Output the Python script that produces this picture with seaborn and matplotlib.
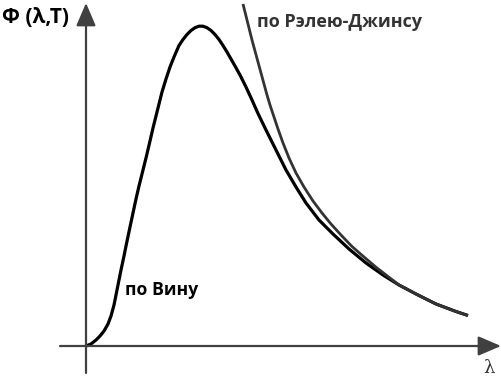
import matplotlib
matplotlib.use("Agg")
import matplotlib.pyplot as plt
import seaborn as sns
import pandas as pd

sns.set_theme(style="white")
plt.rcParams['font.family'] = ['Open Sans', 'DejaVu Sans']

# Planck-like curve (black) (arbitrary units)
planck_x = [0, 5, 10, 14, 18, 22, 25, 28, 30, 33, 35, 38, 40, 44, 47, 50, 53, 57, 60, 64,
            67, 70, 73, 76, 80, 84, 88, 93, 97, 101, 105, 109, 113, 117, 121, 125, 129,
            133, 137, 141, 145, 149, 154, 160, 166, 172, 180, 190, 200, 210, 220, 233,
            247, 263, 280, 297, 313, 330, 350, 370, 382]
planck_y = [0, 2, 6, 10, 15, 22, 30, 41, 51, 66, 76, 90, 100, 119, 133, 147, 160, 176, 188,
            205, 218, 230, 242, 254, 267, 279, 289, 300.5, 306.5, 311.5, 315.5, 318.3,
            319.8, 319.8, 318.3, 315.5, 311.5, 306.5, 300.5, 294, 287, 280, 271, 259,
            246, 232.5, 216, 196, 176, 159, 143, 126, 112, 97, 83, 71, 61, 52, 42, 34.5,
            30.5]

# Rayleigh-Jeans curve (gray)
rj_x = [157, 160, 163, 166, 169, 172, 175, 178, 181, 184, 188, 192, 197, 203, 210, 218,
        227, 236, 245, 255, 266, 278, 291, 304, 313, 330, 350, 370, 382]
rj_y = [342, 330, 318, 306, 295, 284, 273, 262, 251, 241, 229, 217, 203, 188, 173, 159,
        145, 133, 122, 111, 99.5, 89, 78, 68, 61, 52, 42, 34.5, 30.5]

label_y = "Φ (λ,T)"
label_x = "λ"
label_rj = "по Рэлею-Джинсу"
label_wien = "по Вину"

df_p = pd.DataFrame({"x": planck_x, "y": planck_y})
df_r = pd.DataFrame({"x": rj_x, "y": rj_y})

fig = plt.figure(figsize=(5.02, 3.78), dpi=100)
ax = fig.add_axes([0, 0, 1, 1])
ax.set_xlim(-86, 416)
ax.set_ylim(-32, 346)
ax.axis("off")

axis_col = "#404040"
ax.annotate("", xy=(0, 343), xytext=(0, -27),
            arrowprops=dict(arrowstyle="-|>,head_length=1.4,head_width=0.6",
                            color=axis_col, lw=1.6, mutation_scale=10, shrinkA=0, shrinkB=0))
ax.annotate("", xy=(415, 0), xytext=(-26, 0),
            arrowprops=dict(arrowstyle="-|>,head_length=1.4,head_width=0.6",
                            color=axis_col, lw=1.6, mutation_scale=10, shrinkA=0, shrinkB=0))

sns.lineplot(data=df_p, x="x", y="y", sort=False, color="black", lw=2.3, ax=ax)
sns.lineplot(data=df_r, x="x", y="y", sort=False, color="#333333", lw=2.0, ax=ax)
for ln in ax.lines:
    ln.set_solid_joinstyle("round")
    ln.set_solid_capstyle("butt")

ax.text(-84, 323, label_y, ha="left", va="baseline", fontsize=15, fontweight="bold", color="black")
ax.text(171, 319, label_rj, ha="left", va="baseline", fontsize=13, fontweight="bold", color="#333333")
ax.text(39, 51, label_wien, ha="left", va="baseline", fontsize=12.7, fontweight="bold", color="black")
ax.text(403, -27, label_x, ha="center", va="baseline", fontsize=13, color="#333333",
        family=["DejaVu Serif"])

fig.savefig("out.png", dpi=100)
